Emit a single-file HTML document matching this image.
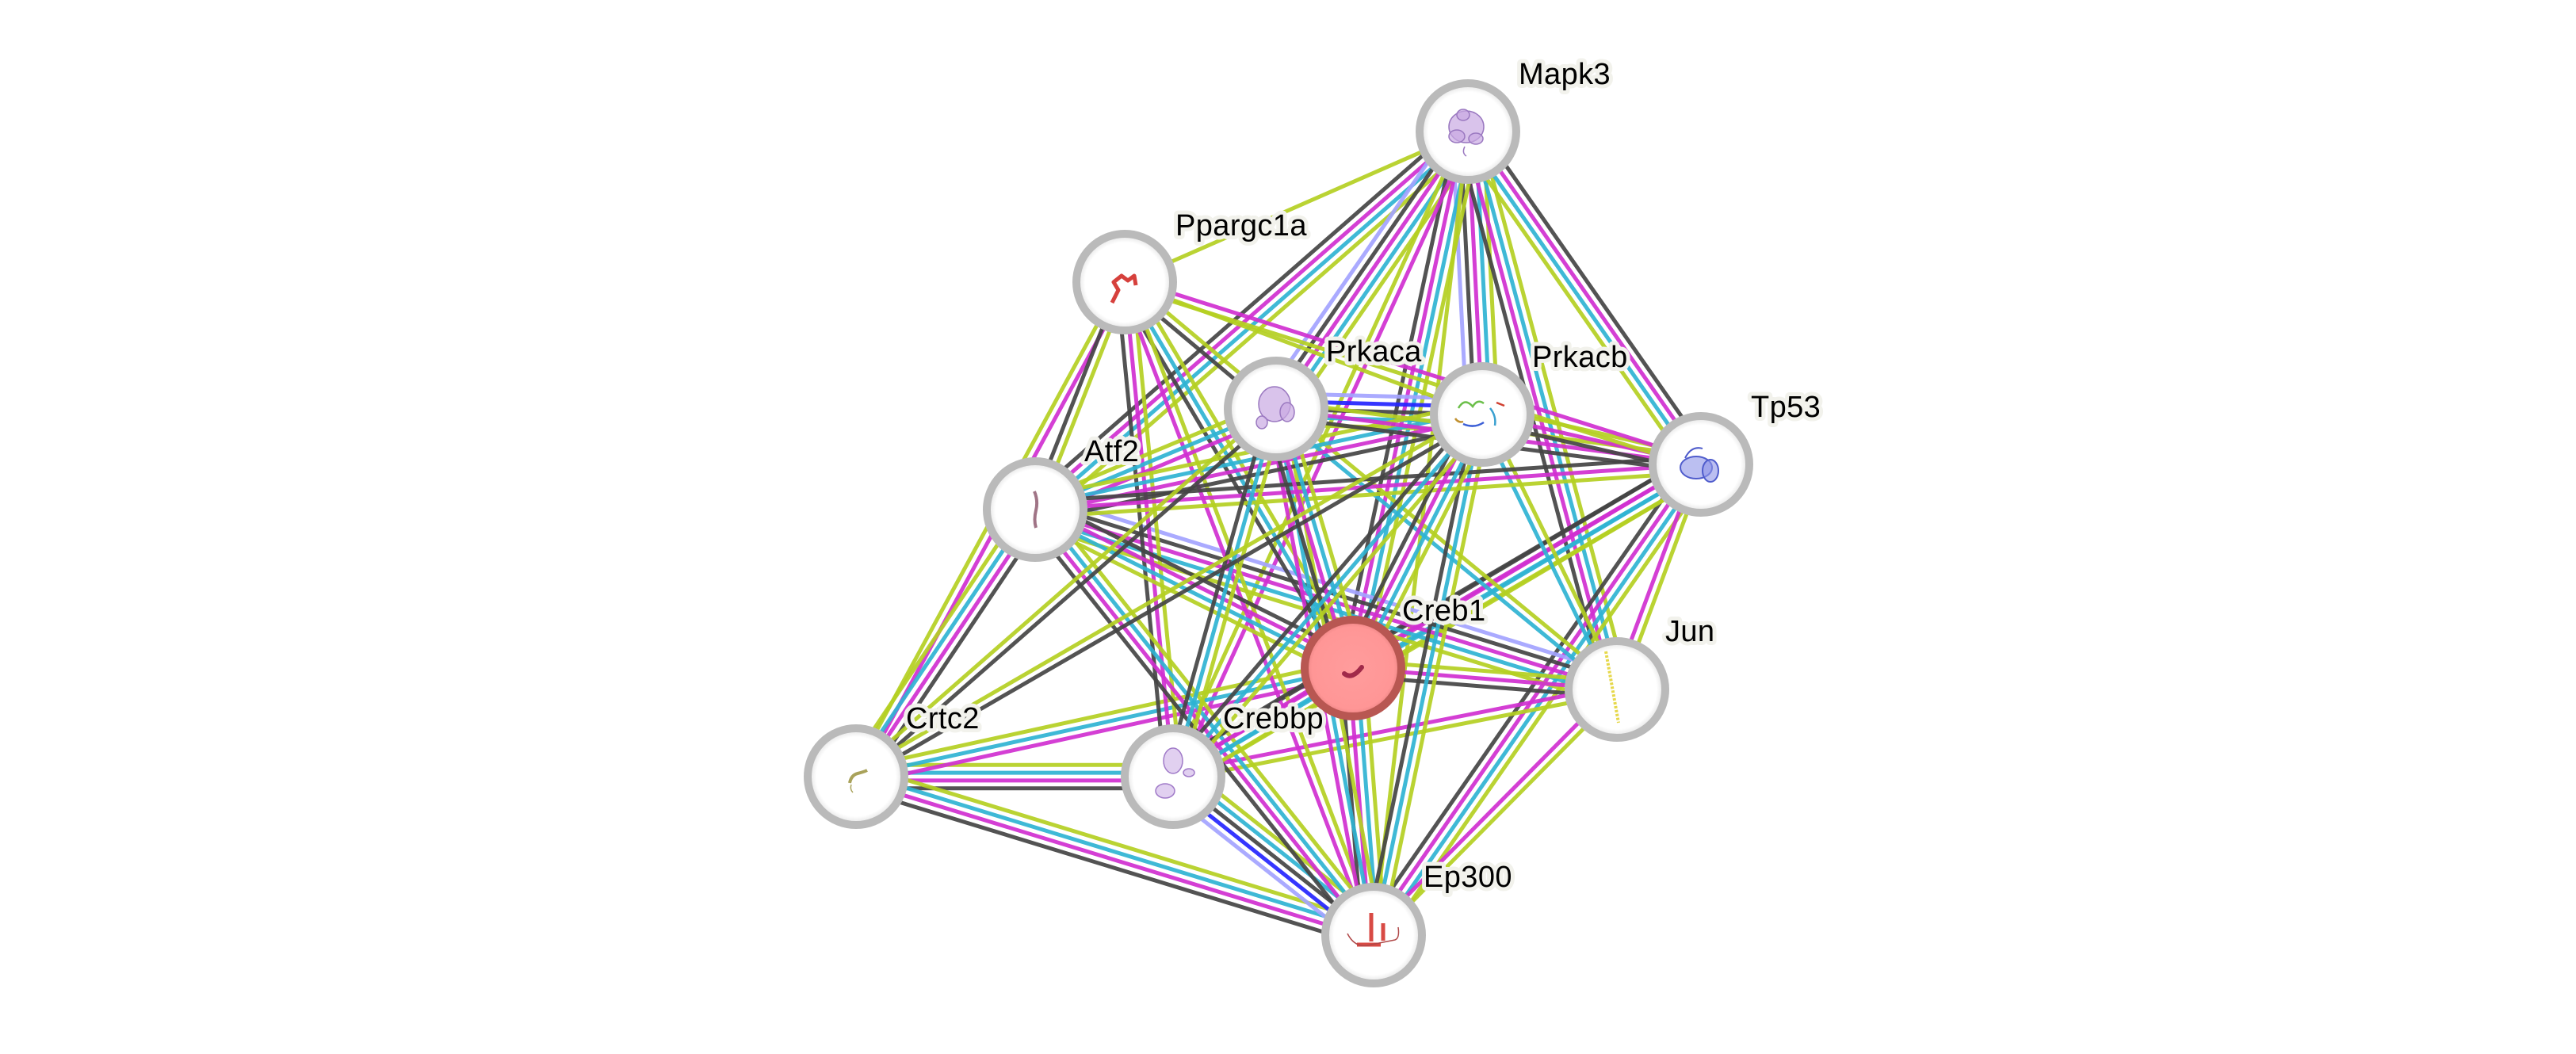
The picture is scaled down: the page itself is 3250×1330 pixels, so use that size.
<!DOCTYPE html>
<html><head><meta charset="utf-8">
<style>
html,body{margin:0;padding:0;background:#fff;}
svg{display:block;}
.lbl{font-family:"Liberation Sans",Arial,sans-serif;font-size:38px;letter-spacing:0.4px;fill:#000;stroke:#f2f2ec;stroke-width:10px;stroke-linejoin:round;paint-order:stroke;}
</style></head>
<body>
<svg id="svg" width="3250" height="1330" viewBox="0 0 3250 1330" xmlns="http://www.w3.org/2000/svg">
<defs>
<radialGradient id="ng" cx="50%" cy="50%" r="50%">
<stop offset="0" stop-color="#ffffff"/><stop offset="0.82" stop-color="#ffffff"/><stop offset="1" stop-color="#dedede"/>
</radialGradient>
<radialGradient id="cg" cx="50%" cy="50%" r="50%">
<stop offset="0" stop-color="#ff9c9c"/><stop offset="0.85" stop-color="#ff9696"/><stop offset="1" stop-color="#e88080"/>
</radialGradient>
</defs>
<rect width="3250" height="1330" fill="#fff"/>
<g id="edges" stroke-width="5" stroke-opacity="0.92" stroke-linecap="butt"></g>
<g id="nodes">
<!-- Mapk3 -->
<circle cx="1852" cy="166" r="61" fill="url(#ng)" stroke="#bababa" stroke-width="10"/>
<g fill="#c9a9e3" fill-opacity="0.7" stroke="#9a78c0" stroke-width="1.5">
<ellipse cx="1850" cy="160" rx="22" ry="20"/><ellipse cx="1838" cy="172" rx="10" ry="8"/><ellipse cx="1862" cy="175" rx="9" ry="7"/><ellipse cx="1846" cy="145" rx="8" ry="7"/>
<path d="M1848 185 q-4 8 2 12" fill="none"/></g>
<!-- Ppargc1a -->
<circle cx="1419" cy="356" r="61" fill="url(#ng)" stroke="#bababa" stroke-width="10"/>
<path d="M1403 382 l8 -16 l-6 -10 l10 -8 l8 6 l8 -6 l2 12" fill="none" stroke="#d6403c" stroke-width="5" stroke-linejoin="round"/>
<!-- Prkaca -->
<circle cx="1610" cy="516" r="61" fill="url(#ng)" stroke="#bababa" stroke-width="10"/>
<g fill="#c9a9e3" fill-opacity="0.7" stroke="#9a78c0" stroke-width="1.5">
<ellipse cx="1608" cy="510" rx="20" ry="22"/><ellipse cx="1592" cy="533" rx="7" ry="8"/><ellipse cx="1624" cy="520" rx="9" ry="12"/></g>
<!-- Prkacb -->
<circle cx="1870" cy="523" r="61" fill="url(#ng)" stroke="#bababa" stroke-width="10"/>
<g fill="none" stroke-width="2.5">
<path d="M1840 515 q8 -14 18 -2 q6 -10 14 -4" stroke="#6cbf4a"/><path d="M1846 535 q14 6 26 -2" stroke="#3c5fd6"/><path d="M1880 515 q8 10 6 22" stroke="#3aa0d0"/><path d="M1888 508 l10 4" stroke="#d04030"/><path d="M1836 528 q4 6 10 4" stroke="#c09030"/></g>
<!-- Tp53 -->
<circle cx="2146" cy="586" r="61" fill="url(#ng)" stroke="#bababa" stroke-width="10"/>
<g fill="#8d95e8" fill-opacity="0.6" stroke="#4f5ccc" stroke-width="2">
<ellipse cx="2140" cy="590" rx="20" ry="14"/><ellipse cx="2158" cy="594" rx="10" ry="14"/><path d="M2126 578 q8 -16 22 -12" fill="none"/></g>
<!-- Atf2 -->
<circle cx="1306" cy="643" r="61" fill="url(#ng)" stroke="#bababa" stroke-width="10"/>
<path d="M1305 620 q5 12 2 24 q-3 12 0 22" fill="none" stroke="#a07486" stroke-width="4"/>
<!-- Creb1 -->
<circle cx="1707" cy="843" r="61" fill="url(#cg)" stroke="#b85752" stroke-width="10"/>
<path d="M1696 850 q10 8 22 -8" fill="none" stroke="#a12a4a" stroke-width="6" stroke-linecap="round"/>
<!-- Jun -->
<circle cx="2040" cy="870" r="61" fill="url(#ng)" stroke="#bababa" stroke-width="10"/>
<path d="M2026 822 l16 90" fill="none" stroke="#e6d84a" stroke-width="4" stroke-dasharray="3 2"/>
<!-- Crtc2 -->
<circle cx="1080" cy="980" r="61" fill="url(#ng)" stroke="#bababa" stroke-width="10"/>
<path d="M1072 988 q2 -10 10 -12 q8 -2 12 -4" fill="none" stroke="#a9a25a" stroke-width="4"/>
<path d="M1074 990 q-2 6 2 10" fill="none" stroke="#a9a25a" stroke-width="1.5"/>
<!-- Crebbp -->
<circle cx="1480" cy="980" r="61" fill="url(#ng)" stroke="#bababa" stroke-width="10"/>
<g fill="#c9a9e3" fill-opacity="0.55" stroke="#a07ac8" stroke-width="1.5">
<ellipse cx="1480" cy="960" rx="12" ry="16"/><ellipse cx="1470" cy="998" rx="12" ry="9"/><ellipse cx="1500" cy="975" rx="7" ry="5"/></g>
<!-- Ep300 -->
<circle cx="1733" cy="1180" r="61" fill="url(#ng)" stroke="#bababa" stroke-width="10"/>
<g fill="none" stroke="#d84a44" stroke-width="5">
<path d="M1730 1152 v36"/><path d="M1745 1165 v22"/><path d="M1712 1192 h30"/></g>
<path d="M1700 1178 q10 20 30 14 q20 -4 30 -6 q6 -2 4 -16" fill="none" stroke="#b04848" stroke-width="1.5"/>
</g>
<g id="labels">
<text class="lbl" x="1916" y="106">Mapk3</text>
<text class="lbl" x="1483" y="297">Ppargc1a</text>
<text class="lbl" x="1673" y="456">Prkaca</text>
<text class="lbl" x="1933" y="463">Prkacb</text>
<text class="lbl" x="2209" y="526">Tp53</text>
<text class="lbl" x="1368" y="582">Atf2</text>
<text class="lbl" x="1769" y="783">Creb1</text>
<text class="lbl" x="2101" y="809">Jun</text>
<text class="lbl" x="1143" y="919">Crtc2</text>
<text class="lbl" x="1543" y="919">Crebbp</text>
<text class="lbl" x="1796" y="1119">Ep300</text>
</g>
</svg>
<script>
(function(){
var N={M:[1852,166],P:[1419,356],KA:[1610,516],KB:[1870,523],T:[2146,586],A:[1306,643],C:[1707,843],J:[2040,870],R:[1080,980],B:[1480,980],E:[1733,1180]};
var col={Y:'#b4cf22',C:'#2fb3d3',M:'#d02fd0',K:'#444444',L:'#a3a3ff',B:'#2424ff'};
var E=[
['P','M','Y'],['M','A','YCMK'],['M','KA','YCMKL'],['M','KB','YCMKL'],['M','J','YCMK'],['M','T','KMCY'],['M','C','YCMK'],['M','B','MY'],['M','E','Y'],
['KA','KB','LBKCY'],['R','B','YCMK'],['R','E','YCMK'],['R','C','YCM'],['B','E','YCKBL'],['T','E','YCMK'],['T','J','YM'],['C','T','KMCY'],['B','T','KMCY'],
['A','J','LKMCY'],['C','J','YMK'],['B','J','MY'],['J','E','YM'],['KB','J','YC'],['KA','J','YC'],['P','R','MY'],['A','R','KMCY'],['P','A','YK'],['P','B','YMK'],
['P','C','YCK'],['P','E','YM'],['C','E','YCMK'],['KB','E','YCK'],['KA','E','YCM'],['A','E','YCMK'],['B','C','KMCY'],['A','C','KMCY'],['A','KA','YCM'],['A','KB','YCMK'],
['A','T','KMY'],['KA','C','YCMK'],['KB','C','YCMK'],['KA','B','YCK'],['KB','B','YCK'],['KA','T','YMK'],['KB','T','YMK'],['P','KA','YK'],['P','KB','Y'],['P','T','MY'],
['R','KA','YK'],['R','KB','YK']
];
var g=document.getElementById('edges');var S=9.8;var ns='http://www.w3.org/2000/svg';
E.forEach(function(e){var a=N[e[0]],b=N[e[1]],cs=e[2];var dx=b[0]-a[0],dy=b[1]-a[1],L=Math.sqrt(dx*dx+dy*dy);var nx=-dy/L,ny=dx/L;var n=cs.length;
for(var i=0;i<n;i++){var o=(i-(n-1)/2)*S;var l=document.createElementNS(ns,'line');
l.setAttribute('x1',(a[0]+nx*o).toFixed(1));l.setAttribute('y1',(a[1]+ny*o).toFixed(1));
l.setAttribute('x2',(b[0]+nx*o).toFixed(1));l.setAttribute('y2',(b[1]+ny*o).toFixed(1));
l.setAttribute('stroke',col[cs.charAt(i)]);g.appendChild(l);}});
})();
</script>
</body></html>
